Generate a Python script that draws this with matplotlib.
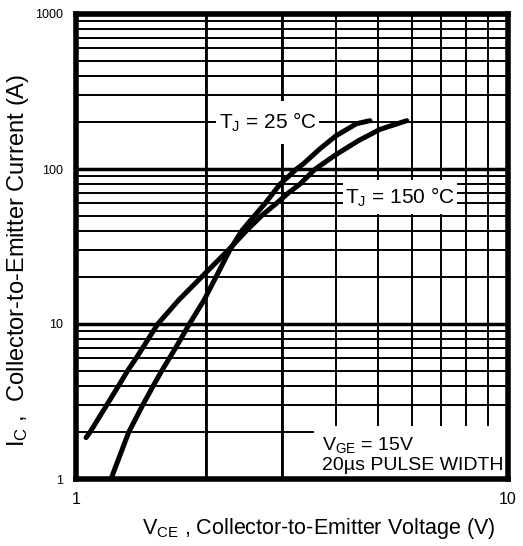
import matplotlib
matplotlib.use("Agg")
import matplotlib.pyplot as plt
from matplotlib.ticker import FixedLocator, FixedFormatter, NullFormatter

# --- data ---
vce_25 = [1.205, 1.324, 1.427, 1.51, 1.58, 1.70, 1.83, 1.98, 2.27, 2.42, 2.59,
          2.74, 2.86, 2.97, 3.24, 3.36, 3.67, 4.00, 4.46, 4.79]
ic_25 = [1.0, 2.0, 3.0, 4.0, 5.0, 7.0, 10.0, 14.3, 30.0, 40.0, 50.0,
         60.0, 70.0, 80.0, 100.0, 108.0, 135.0, 164.0, 196.0, 205.0]

vce_150 = [1.055, 1.077, 1.178, 1.255, 1.317, 1.377, 1.546, 1.73, 2.00, 2.24,
           2.48, 2.69, 2.91, 3.10, 3.30, 3.58, 4.00, 4.50, 5.05, 5.83]
ic_150 = [1.85, 2.0, 3.0, 4.0, 5.0, 6.0, 10.0, 14.3, 21.5, 29.5,
          40.0, 50.0, 60.0, 70.0, 80.0, 100.0, 124.0, 152.0, 180.0, 205.0]

x_ticks = [1, 10]
x_tick_labels = ["1", "10"]
y_ticks = [1, 10, 100, 1000]
y_tick_labels = ["1", "10", "100", "1000"]
x_minor = [2, 3, 4, 5, 6, 7, 8, 9]
x_heavy = [2, 3]
y_minor = [m * d for d in (1, 10, 100) for m in range(2, 10)]

# --- fonts ---
plt.rcParams['font.family'] = ['Liberation Sans', 'DejaVu Sans']
plt.rcParams['mathtext.fontset'] = 'custom'
plt.rcParams['mathtext.rm'] = 'Liberation Sans'
plt.rcParams['mathtext.it'] = 'Liberation Sans:italic'
plt.rcParams['mathtext.default'] = 'regular'

W, H = 523, 546
fig = plt.figure(figsize=(W / 100, H / 100), dpi=100)
ax = fig.add_axes([76 / W, 1 - 479 / H, 432 / W, 465 / H])

ax.set_xscale('log')
ax.set_yscale('log')
ax.set_xlim(1, 10)
ax.set_ylim(1, 1000)

ax.xaxis.set_major_locator(FixedLocator(x_ticks))
ax.xaxis.set_major_formatter(FixedFormatter(x_tick_labels))
ax.xaxis.set_minor_locator(FixedLocator(x_minor))
ax.xaxis.set_minor_formatter(NullFormatter())
ax.yaxis.set_major_locator(FixedLocator(y_ticks))
ax.yaxis.set_major_formatter(FixedFormatter(y_tick_labels))
ax.yaxis.set_minor_locator(FixedLocator(y_minor))
ax.yaxis.set_minor_formatter(NullFormatter())

ax.tick_params(which='both', length=0)
ax.tick_params(axis='x', labelsize=11.5, pad=9)
ax.tick_params(axis='y', labelsize=9, pad=9)

# grid: heavy decades, lighter minors
ax.set_axisbelow(True)
ax.grid(which='major', axis='y', color='k', lw=2.5)
ax.grid(which='minor', axis='both', color='k', lw=1.4)
for v in x_heavy:
    ax.axvline(v, color='k', lw=2.0, zorder=0.6)

for sp in ax.spines.values():
    sp.set_linewidth(4)
    sp.set_zorder(10)

# curves
ax.plot(vce_25, ic_25, color='k', lw=3.6, solid_capstyle='round',
        solid_joinstyle='round', zorder=3)
ax.plot(vce_150, ic_150, color='k', lw=3.6, solid_capstyle='round',
        solid_joinstyle='round', zorder=3)

# labels on the curves
ax.text(2.78, 200, r'T$_J$ = 25 °C', fontsize=15, ha='center', va='center',
        zorder=5, bbox=dict(boxstyle='square,pad=0.12', fc='white', ec='none',
                            mutation_aspect=4))
ax.text(5.62, 66, r'T$_J$ = 150 °C', fontsize=15, ha='center', va='center',
        zorder=5, bbox=dict(boxstyle='square,pad=0.1', fc='white', ec='none',
                            mutation_aspect=2.5))
ax.text(3.71, 1.14, 'V$_{GE}$ = 15V\n20µs PULSE WIDTH', fontsize=14,
        ha='left', va='baseline', linespacing=1.15, zorder=5,
        bbox=dict(boxstyle='square,pad=0.4', fc='white', ec='none'))

ax.set_xlabel(r'V$_{CE}$ , Collector-to-Emitter Voltage (V)', fontsize=15.5)
ax.xaxis.set_label_coords(0.5625, -0.08)
ax.set_ylabel(r'I$_C$ ,  Collector-to-Emitter Current (A)', fontsize=17)
ax.yaxis.set_label_coords(-0.105, 0.47)

fig.savefig('out.png', dpi=100)
